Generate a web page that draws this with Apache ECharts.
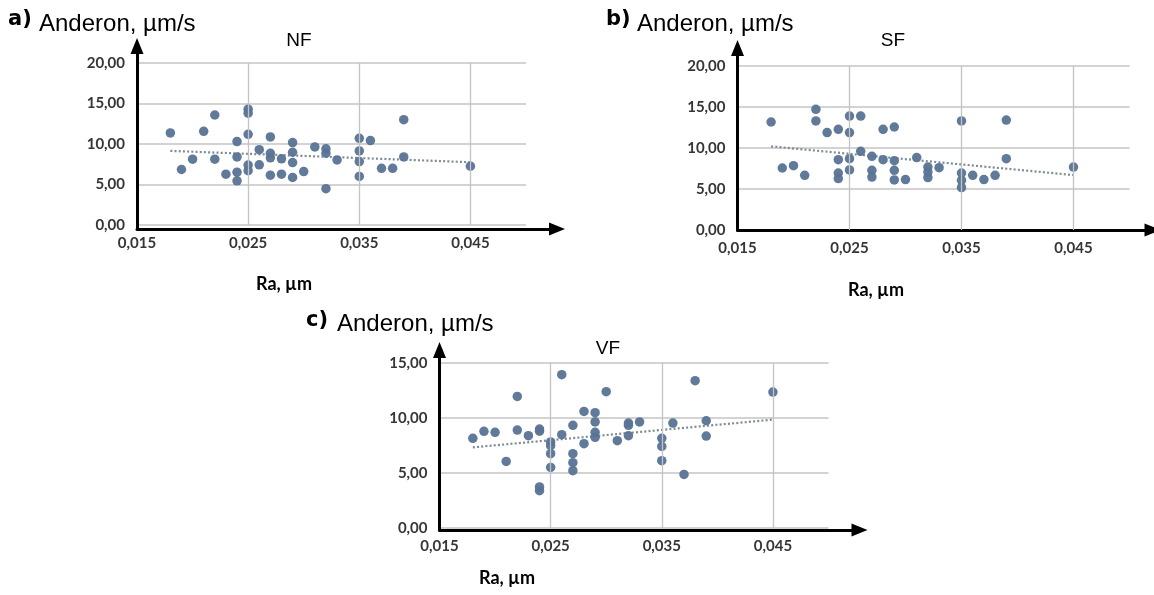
<!DOCTYPE html>
<html>
<head>
<meta charset="utf-8">
<script src="https://cdn.jsdelivr.net/npm/echarts@6/dist/echarts.min.js"></script>
<style>
  html, body { margin: 0; padding: 0; background: #fff; }
  #chart { width: 1154px; height: 595px; }
</style>
</head>
<body>
<div id="chart"></div>
<script>
// Surface roughness Ra (µm) against Anderon (µm/s) for the three fractions

// a) NF
const raNF  = [0.018, 0.019, 0.020, 0.021, 0.022, 0.022, 0.023, 0.024, 0.024, 0.024, 0.024,
               0.025, 0.025, 0.025, 0.025, 0.025, 0.026, 0.026, 0.027, 0.027, 0.027, 0.027,
               0.028, 0.028, 0.029, 0.029, 0.029, 0.029, 0.030, 0.031, 0.032, 0.032, 0.032,
               0.033, 0.035, 0.035, 0.035, 0.035, 0.036, 0.037, 0.038, 0.039, 0.039, 0.045];
const andNF = [11.37, 6.85, 8.12, 11.56, 13.58, 8.12, 6.27, 5.46, 6.52, 8.41, 10.30,
               14.30, 13.80, 11.20, 7.40, 6.70, 9.30, 7.43, 10.87, 8.86, 8.29, 6.15,
               8.17, 6.27, 10.17, 8.98, 7.71, 5.87, 6.60, 9.64, 9.40, 8.86, 4.48,
               8.04, 10.70, 9.15, 7.83, 5.99, 10.42, 7.00, 7.00, 13.00, 8.41, 7.26];
const trendNF = [[0.018, 9.15], [0.045, 7.75]];

// b) SF
const raSF  = [0.018, 0.019, 0.020, 0.021, 0.022, 0.022, 0.023, 0.024, 0.024, 0.024, 0.024,
               0.025, 0.025, 0.025, 0.025, 0.026, 0.026, 0.027, 0.027, 0.027, 0.028, 0.028,
               0.029, 0.029, 0.029, 0.029, 0.030, 0.031, 0.032, 0.032, 0.032, 0.033,
               0.035, 0.035, 0.035, 0.035, 0.036, 0.037, 0.038, 0.039, 0.039, 0.045];
const andSF = [13.17, 7.56, 7.85, 6.67, 14.72, 13.30, 11.88, 12.28, 8.58, 6.95, 6.27,
               13.90, 11.88, 8.70, 7.32, 13.90, 9.60, 8.99, 7.28, 6.46, 12.28, 8.58,
               12.56, 8.46, 7.28, 6.10, 6.15, 8.83, 7.68, 7.07, 6.39, 7.60,
               13.30, 6.95, 6.06, 5.17, 6.67, 6.15, 6.67, 13.41, 8.70, 7.68];
const trendSF = [[0.018, 10.2], [0.045, 6.7]];

// c) VF
const raVF  = [0.018, 0.019, 0.020, 0.021, 0.022, 0.022, 0.023, 0.024, 0.024, 0.024, 0.024,
               0.025, 0.025, 0.025, 0.025, 0.026, 0.026, 0.027, 0.027, 0.027, 0.027,
               0.028, 0.028, 0.029, 0.029, 0.029, 0.029, 0.030, 0.031, 0.032, 0.032, 0.032,
               0.033, 0.035, 0.035, 0.035, 0.036, 0.037, 0.038, 0.039, 0.039, 0.045];
const andVF = [8.15, 8.79, 8.70, 6.05, 11.96, 8.90, 8.39, 9.00, 8.80, 3.73, 3.39,
               7.82, 7.48, 6.76, 5.51, 8.48, 13.94, 9.33, 6.76, 5.94, 5.21,
               10.60, 7.67, 10.48, 9.64, 8.70, 8.24, 12.39, 7.94, 9.54, 9.33, 8.39,
               9.64, 8.15, 7.42, 6.12, 9.54, 4.87, 13.39, 9.75, 8.36, 12.36];
const trendVF = [[0.018, 7.33], [0.045, 9.85]];

// axis ticks
const raTicks = [0.015, 0.025, 0.035, 0.045];
const raMin = 0.015, raMax = 0.05;

const DOT = '#587393';
const GRID_LINE = '#c4c4c4';
const TICK_FONT = { fontFamily: 'Lato', fontWeight: 'bold', fontSize: 15, color: '#363636' };

const panels = [
  { ra: raNF, val: andNF, trend: trendNF, yMax: 20,
    plot:  { left: 137,   top: 63,  width: 389, height: 162 },
    arrow: { left: 137,   top: 46,  width: 420, height: 183 } },
  { ra: raSF, val: andSF, trend: trendSF, yMax: 20,
    plot:  { left: 737.5, top: 66,  width: 392, height: 164 },
    arrow: { left: 737.5, top: 48,  width: 415, height: 182 } },
  { ra: raVF, val: andVF, trend: trendVF, yMax: 15,
    plot:  { left: 439.5, top: 363, width: 389, height: 165 },
    arrow: { left: 439.5, top: 350, width: 420, height: 180 } }
];

const grids = [], xAxes = [], yAxes = [], series = [];

panels.forEach((p) => {
  const g = grids.length;
  grids.push(Object.assign({ containLabel: false }, p.plot));
  xAxes.push({
    type: 'value', gridIndex: g, min: raMin, max: raMax,
    axisLine: { show: false },
    axisTick: { show: false, customValues: raTicks },
    axisLabel: Object.assign({
      customValues: raTicks, margin: 11,
      formatter: v => v.toFixed(3).replace('.', ',')
    }, TICK_FONT),
    splitLine: { show: false }
  });
  yAxes.push({
    type: 'value', gridIndex: g, min: 0, max: p.yMax, interval: 5,
    axisLine: { show: false },
    axisTick: { show: false },
    axisLabel: Object.assign({
      margin: 12,
      formatter: v => v.toFixed(2).replace('.', ',')
    }, TICK_FONT),
    splitLine: { show: true, lineStyle: { color: GRID_LINE, width: 1.6 } }
  });
  // dotted trend line; vertical grid lines at the labelled Ra ticks
  series.push({
    type: 'line', xAxisIndex: g, yAxisIndex: g,
    data: p.trend, symbol: 'none', silent: true, z: 2,
    lineStyle: { color: '#7d8a98', width: 2.2, type: [2, 2.2] },
    markLine: {
      silent: true, symbol: 'none', precision: 5, label: { show: false },
      lineStyle: { color: GRID_LINE, width: 1.3, type: 'solid' },
      data: raTicks.slice(1).map(v => ({ xAxis: v }))
    }
  });
  series.push({
    type: 'scatter', xAxisIndex: g, yAxisIndex: g,
    data: p.ra.map((r, k) => [r, p.val[k]]),
    symbol: 'circle', symbolSize: 9.5, z: 3,
    itemStyle: { color: DOT, opacity: 0.95 }
  });

  // black axes with arrow heads
  const a = grids.length;
  grids.push(Object.assign({ containLabel: false }, p.arrow));
  const arrowLine = {
    show: true, onZero: false,
    symbol: ['none', 'triangle'], symbolSize: [13, 16],
    lineStyle: { color: '#000', width: 3 }
  };
  xAxes.push({
    type: 'value', gridIndex: a, min: 0, max: 1,
    axisLine: arrowLine, axisTick: { show: false },
    axisLabel: { show: false }, splitLine: { show: false }
  });
  yAxes.push({
    type: 'value', gridIndex: a, min: 0, max: 1,
    axisLine: arrowLine, axisTick: { show: false },
    axisLabel: { show: false }, splitLine: { show: false }
  });
});

function txt(text, x, y, font, align) {
  return {
    type: 'text', x: x, y: y, z: 10,
    style: { text: text, font: font, fill: '#000', align: align || 'left', verticalAlign: 'middle' }
  };
}
const LBL = '900 21px "DejaVu Sans", "Liberation Sans", sans-serif';
const UNIT = '24px "Liberation Sans", Arial, sans-serif';
const TTL = '19px "Liberation Sans", Arial, sans-serif';
const RA = 'bold 18px Lato, sans-serif';

const graphics = [
  txt('a)', 8, 20, LBL), txt('Anderon, µm/s', 39, 24, UNIT),
  txt('NF', 299, 41, TTL, 'center'),
  txt('Ra, µm', 284, 284, RA, 'center'),

  txt('b)', 606, 20, LBL), txt('Anderon, µm/s', 637, 24, UNIT),
  txt('SF', 893, 41, TTL, 'center'),
  txt('Ra, µm', 876, 290, RA, 'center'),

  txt('c)', 306, 321, LBL), txt('Anderon, µm/s', 337, 324, UNIT),
  txt('VF', 608, 349, TTL, 'center'),
  txt('Ra, µm', 507, 578, RA, 'center')
];

const chart = echarts.init(document.getElementById('chart'), null, { renderer: 'canvas' });
chart.setOption({
  animation: false,
  backgroundColor: '#fff',
  grid: grids,
  xAxis: xAxes,
  yAxis: yAxes,
  series: series,
  graphic: graphics
});
</script>
</body>
</html>
